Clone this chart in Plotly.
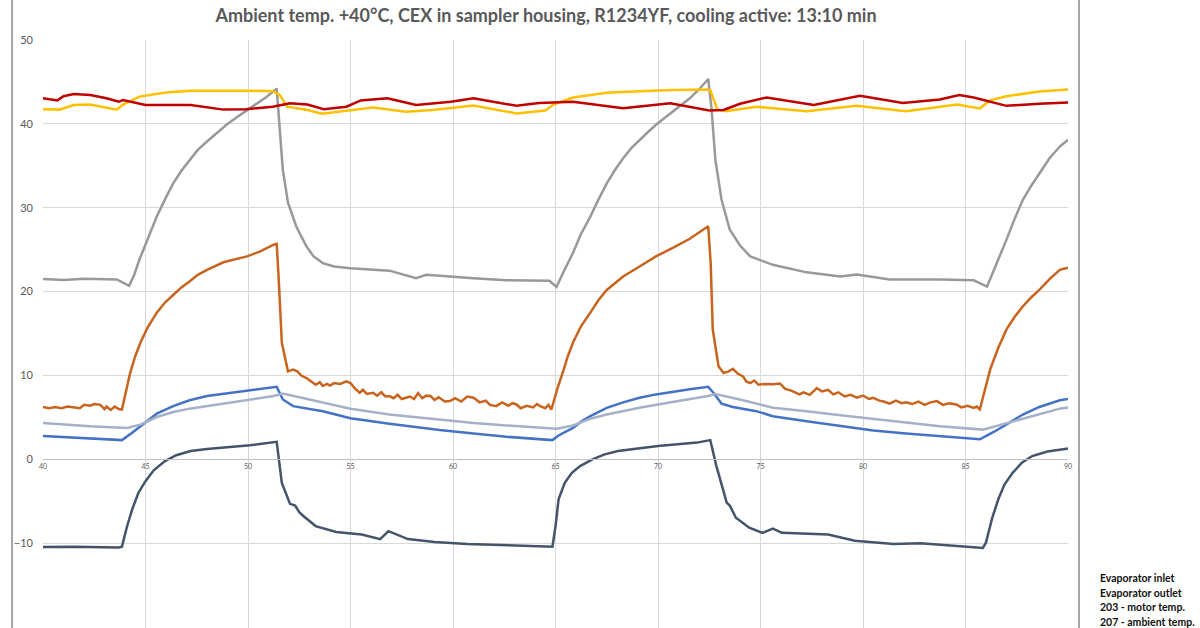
import plotly.graph_objects as go

# time [min] / temperature [°C]
gold_t = [40.0, 40.8, 41.5, 42.3, 43.6, 43.9, 44.7, 46.0, 47.2, 48.8, 50.0, 51.2, 51.55, 51.9,
          52.9, 53.6, 55.0, 56.1, 57.7, 59.0, 61.0, 63.1, 64.5, 64.9, 65.85, 67.5, 69.1, 70.7,
          72.4, 72.55, 72.9, 73.3, 74.8, 77.25, 79.7, 82.1, 84.6, 85.7, 86.2, 87.0, 88.6, 90.0]
gold_v = [41.75, 41.7, 42.25, 42.3, 41.7, 42.3, 43.25, 43.75, 43.95, 44.0, 43.95, 43.9, 43.45, 42.05,
          41.65, 41.2, 41.65, 41.95, 41.45, 41.65, 42.2, 41.25, 41.6, 42.3, 43.15, 43.7, 43.9, 44.05,
          44.1, 44.0, 41.7, 41.5, 42.05, 41.5, 42.15, 41.5, 42.3, 41.85, 42.8, 43.3, 43.85, 44.1]

red_t = [40.0, 40.7, 41.0, 41.5, 42.3, 43.1, 43.7, 43.9, 45.0, 47.2, 48.8, 49.9, 51.2, 52.05,
         52.9, 53.7, 54.8, 55.5, 56.8, 58.2, 59.9, 61.0, 63.1, 64.2, 65.85, 68.3, 70.6, 72.5,
         73.2, 74.0, 75.3, 77.6, 79.85, 81.95, 83.75, 84.7, 85.4, 87.0, 88.6, 90.0]
red_v = [43.05, 42.8, 43.3, 43.55, 43.45, 43.05, 42.65, 42.85, 42.25, 42.25, 41.7, 41.75, 42.05, 42.45,
         42.3, 41.75, 42.05, 42.8, 43.05, 42.25, 42.65, 43.05, 42.15, 42.5, 42.65, 41.85, 42.45, 41.6,
         41.65, 42.4, 43.15, 42.25, 43.35, 42.5, 42.9, 43.45, 43.15, 42.15, 42.4, 42.55]

gray_t = [40.0, 41.0, 42.0, 43.6, 44.2, 44.45, 44.7, 45.1, 45.55, 45.95, 46.35, 46.75, 47.15, 47.55,
          48.0, 48.45, 48.95, 49.45, 49.95, 50.4, 50.9, 51.4, 51.55, 51.7, 51.95, 52.35, 52.85, 53.2,
          53.65, 54.2, 55.0, 56.9, 58.2, 58.7, 61.0, 62.6, 64.7, 65.05, 65.4, 65.85, 66.25, 66.7,
          67.1, 67.5, 67.9, 68.3, 68.7, 69.1, 69.5, 69.9, 70.3, 70.7, 71.1, 71.55, 72.0, 72.45,
          72.6, 72.8, 73.1, 73.5, 74.0, 74.5, 75.6, 77.25, 78.9, 79.7, 81.3, 83.75, 85.4, 86.05,
          86.5, 87.0, 87.4, 87.8, 88.2, 88.6, 89.1, 89.6, 90.0]
gray_v = [21.5, 21.4, 21.55, 21.45, 20.7, 22.0, 23.8, 26.3, 28.95, 31.0, 32.9, 34.4, 35.7, 36.9,
          37.9, 38.9, 39.9, 40.8, 41.65, 42.45, 43.2, 44.2, 39.7, 34.5, 30.6, 27.8, 25.4, 24.2,
          23.4, 23.0, 22.8, 22.5, 21.6, 22.0, 21.6, 21.35, 21.3, 20.55, 22.4, 24.6, 26.9, 28.95,
          31.0, 32.9, 34.5, 35.9, 37.1, 38.1, 39.0, 39.9, 40.7, 41.45, 42.2, 43.05, 44.1, 45.35,
          42.1, 35.7, 30.95, 27.4, 25.5, 24.2, 23.2, 22.3, 21.8, 22.05, 21.45, 21.45, 21.35, 20.6,
          23.2, 26.2, 28.7, 30.95, 32.6, 34.1, 35.9, 37.3, 38.1]

orange_t = [40.0, 40.3, 40.6, 40.9, 41.2, 41.5, 41.8, 42.0, 42.3, 42.5, 42.8, 43.0, 43.1, 43.3,
            43.5, 43.7, 43.85, 44.25, 44.5, 44.75, 45.1, 45.55, 45.95, 46.35, 46.75, 47.15, 47.55, 48.0,
            48.8, 49.95, 50.6, 51.25, 51.4, 51.5, 51.65, 51.95, 52.2, 52.4, 52.6, 52.85, 53.1, 53.3,
            53.5, 53.65, 53.85, 54.0, 54.2, 54.5, 54.8, 55.0, 55.2, 55.45, 55.6, 55.8, 56.1, 56.3,
            56.5, 56.7, 56.9, 57.1, 57.3, 57.5, 57.7, 57.9, 58.1, 58.3, 58.5, 58.7, 58.9, 59.1,
            59.3, 59.6, 59.85, 60.1, 60.4, 60.7, 61.0, 61.3, 61.6, 61.8, 62.1, 62.4, 62.7, 62.9,
            63.1, 63.3, 63.6, 63.9, 64.1, 64.25, 64.5, 64.65, 64.8, 65.1, 65.4, 65.6, 65.85, 66.25,
            66.7, 67.1, 67.5, 67.9, 68.3, 69.1, 69.9, 70.7, 71.55, 72.45, 72.57, 72.67, 72.95, 73.2,
            73.45, 73.65, 73.9, 74.15, 74.3, 74.5, 74.7, 74.9, 75.2, 75.6, 75.95, 76.2, 76.5, 76.9,
            77.1, 77.4, 77.75, 78.0, 78.3, 78.55, 78.8, 79.1, 79.4, 79.7, 80.0, 80.3, 80.5, 80.8,
            81.0, 81.3, 81.6, 81.9, 82.1, 82.4, 82.7, 83.0, 83.3, 83.6, 83.9, 84.2, 84.55, 84.8,
            85.1, 85.4, 85.55, 85.7, 86.2, 86.6, 87.0, 87.4, 87.8, 88.2, 88.6, 89.1, 89.6, 90.0]
orange_v = [6.25, 6.1, 6.25, 6.1, 6.3, 6.2, 6.1, 6.5, 6.4, 6.6, 6.5, 6.0, 6.3, 5.9,
            6.3, 6.0, 5.95, 10.3, 12.3, 13.9, 15.7, 17.5, 18.7, 19.6, 20.5, 21.2, 22.0, 22.6,
            23.5, 24.2, 24.8, 25.6, 25.7, 21.4, 13.9, 10.5, 10.7, 10.5, 10.0, 9.7, 9.3, 8.9,
            9.2, 8.75, 9.0, 8.8, 9.1, 9.0, 9.3, 9.1, 8.5, 7.95, 8.3, 7.8, 7.95, 7.6,
            8.0, 7.5, 7.55, 7.3, 7.7, 7.2, 7.35, 7.5, 7.2, 7.9, 7.3, 7.6, 7.55, 7.1,
            7.4, 6.9, 6.95, 7.3, 6.9, 7.5, 7.35, 6.8, 7.0, 6.5, 6.35, 6.8, 6.4, 6.7,
            6.55, 6.1, 6.4, 6.2, 6.6, 6.35, 6.1, 6.5, 5.95, 8.5, 10.7, 12.3, 13.9, 15.9,
            17.5, 19.0, 20.2, 21.0, 21.8, 23.0, 24.2, 25.2, 26.3, 27.8, 23.4, 15.5, 11.1, 10.3,
            10.5, 10.8, 10.2, 9.9, 9.3, 9.1, 9.4, 8.9, 9.0, 8.95, 9.05, 8.4, 8.2, 7.75,
            8.0, 7.7, 8.5, 8.1, 8.3, 7.75, 8.0, 7.5, 7.7, 7.35, 7.6, 7.2, 7.35, 7.0,
            6.9, 6.65, 7.0, 6.7, 6.8, 6.6, 6.9, 6.5, 6.8, 6.95, 6.5, 6.7, 6.55, 6.2,
            6.4, 6.15, 6.3, 5.95, 10.7, 13.3, 15.5, 17.0, 18.25, 19.3, 20.2, 21.5, 22.6, 22.85]

blue_t = [40.0, 41.5, 43.85, 44.3, 44.75, 45.15, 45.55, 46.35, 47.15, 48.0, 48.95, 49.95, 51.4, 51.7,
          52.2, 53.65, 55.0, 56.9, 59.35, 61.0, 62.6, 64.85, 65.15, 65.85, 66.25, 66.7, 67.5, 68.3,
          69.1, 69.9, 70.7, 71.55, 72.45, 72.7, 73.1, 73.65, 74.8, 75.6, 77.25, 78.9, 80.5, 82.1,
          84.55, 85.7, 86.4, 87.0, 87.8, 88.6, 89.6, 90.0]
blue_v = [2.8, 2.6, 2.3, 3.1, 3.95, 4.75, 5.45, 6.35, 7.05, 7.55, 7.85, 8.15, 8.65, 7.15,
          6.35, 5.75, 4.9, 4.25, 3.5, 3.1, 2.7, 2.3, 2.85, 3.75, 4.5, 5.15, 6.15, 6.8,
          7.35, 7.75, 8.0, 8.35, 8.65, 7.95, 6.65, 6.25, 5.75, 5.15, 4.55, 3.95, 3.45, 3.1,
          2.6, 2.4, 3.3, 4.15, 5.35, 6.25, 7.05, 7.2]

steel_t = [40.0, 42.3, 44.1, 44.75, 45.55, 46.35, 47.15, 48.0, 48.95, 49.95, 51.25, 51.7, 52.85, 55.0,
           56.9, 59.35, 61.0, 62.6, 65.05, 65.85, 66.7, 67.5, 69.1, 70.7, 72.45, 72.8, 74.0, 75.6,
           77.25, 78.9, 80.5, 82.1, 83.75, 85.85, 87.0, 88.6, 89.6, 90.0]
steel_v = [4.35, 3.95, 3.75, 4.15, 5.05, 5.65, 6.05, 6.35, 6.75, 7.05, 7.55, 7.85, 7.2, 6.05,
           5.35, 4.7, 4.35, 4.05, 3.65, 4.05, 4.85, 5.35, 6.15, 6.85, 7.55, 7.8, 7.15, 6.15,
           5.75, 5.25, 4.85, 4.45, 3.95, 3.55, 4.3, 5.35, 6.05, 6.2]

slate_t = [40.0, 41.5, 43.7, 43.85, 44.1, 44.35, 44.65, 45.0, 45.4, 45.95, 46.5, 47.2, 48.0, 48.85,
           50.1, 51.4, 51.65, 52.05, 52.3, 52.5, 52.7, 53.3, 54.3, 55.55, 56.45, 56.85, 57.8, 59.1,
           60.7, 62.3, 64.7, 64.85, 65.0, 65.15, 65.45, 65.8, 66.2, 66.8, 67.4, 68.05, 70.0, 71.9,
           72.55, 72.85, 73.35, 73.5, 73.8, 74.45, 75.1, 75.6, 76.05, 77.0, 78.3, 79.6, 81.5, 82.8,
           84.75, 85.85, 86.0, 86.3, 86.6, 86.9, 87.3, 87.75, 88.25, 89.0, 89.85, 90.0]
slate_v = [-10.45, -10.4, -10.5, -10.4, -8.0, -5.95, -4.0, -2.6, -1.3, -0.2, 0.5, 1.0, 1.25, 1.4,
           1.7, 2.1, -2.8, -5.3, -5.5, -6.3, -6.75, -7.95, -8.65, -8.95, -9.5, -8.55, -9.5, -9.85,
           -10.1, -10.2, -10.45, -10.4, -8.0, -4.75, -2.8, -1.6, -0.8, 0.0, 0.6, 1.0, 1.6, 2.0,
           2.3, -0.8, -5.15, -5.5, -6.95, -8.15, -8.75, -8.25, -8.75, -8.8, -8.95, -9.7, -10.1, -10.0,
           -10.3, -10.55, -9.9, -7.0, -4.75, -3.0, -1.6, -0.4, 0.4, 0.95, 1.25, 1.3]

legend_labels = ['Evaporator inlet', 'Evaporator outlet', '203 - motor temp.', '207 - ambient temp.']

series = [
    ('Evaporator inlet', slate_t, slate_v, '#44546A'),
    ('Evaporator outlet', blue_t, blue_v, '#4472C4'),
    ('Series 3', steel_t, steel_v, '#A5B1C8'),
    ('Series 4', orange_t, orange_v, '#C8641E'),
    ('Series 5', gray_t, gray_v, '#999999'),
    ('203 - motor temp.', gold_t, gold_v, '#FFC000'),
    ('207 - ambient temp.', red_t, red_v, '#C00000'),
]

fig = go.Figure()

for name, t, v, color in series:
    fig.add_trace(go.Scatter(
        x=t, y=v,
        mode='lines',
        name=name,
        line=dict(color=color, width=2.5),
    ))

# legend text (only the first entries visible, without keys)
for i, label in enumerate(legend_labels):
    fig.add_annotation(
        x=1.029, y=0.085 - i * 0.0247,
        xref='paper', yref='paper',
        xanchor='left', yanchor='middle',
        text=label, showarrow=False,
        font=dict(family='Lato', size=10.5, color='#111111', weight='bold'),
    )

# chart frame borders
for xp in [-0.0302, 1.0107]:
    fig.add_shape(type='line', xref='paper', yref='paper',
                  x0=xp, x1=xp, y0=-0.1, y1=1.1,
                  line=dict(color='#A6A6A6', width=2))

fig.update_layout(
    title=dict(
        text='<b>Ambient temp. +40°C, CEX in sampler housing, R1234YF, cooling active: 13:10 min</b>',
        font=dict(family='Lato', size=18, color='#595959'),
        x=0.455, xanchor='center',
        y=0.975, yanchor='middle',
    ),
    xaxis=dict(
        range=[40, 90], dtick=5,
        anchor='free', position=20.1 / 70.1,
        showline=True, linecolor='#BFBFBF', linewidth=1,
        showgrid=True, gridcolor='#D9D9D9', zeroline=False,
        tickfont=dict(family='Lato', size=7, color='#595959'),
    ),
    yaxis=dict(
        range=[-20.1, 50], dtick=10,
        showgrid=True, gridcolor='#D9D9D9', zeroline=False,
        tickfont=dict(family='Lato', size=11, color='#595959'),
        ticklabelstandoff=9,
    ),
    showlegend=False,
    plot_bgcolor='white',
    paper_bgcolor='white',
    width=1200,
    height=628,
    margin=dict(l=43, r=132, t=40, b=0),
)

# the page margin would push the 1200x628 figure past the window
fig.write_html('out.html', config={'displayModeBar': False},
               post_script="document.body.style.margin = '0';")
